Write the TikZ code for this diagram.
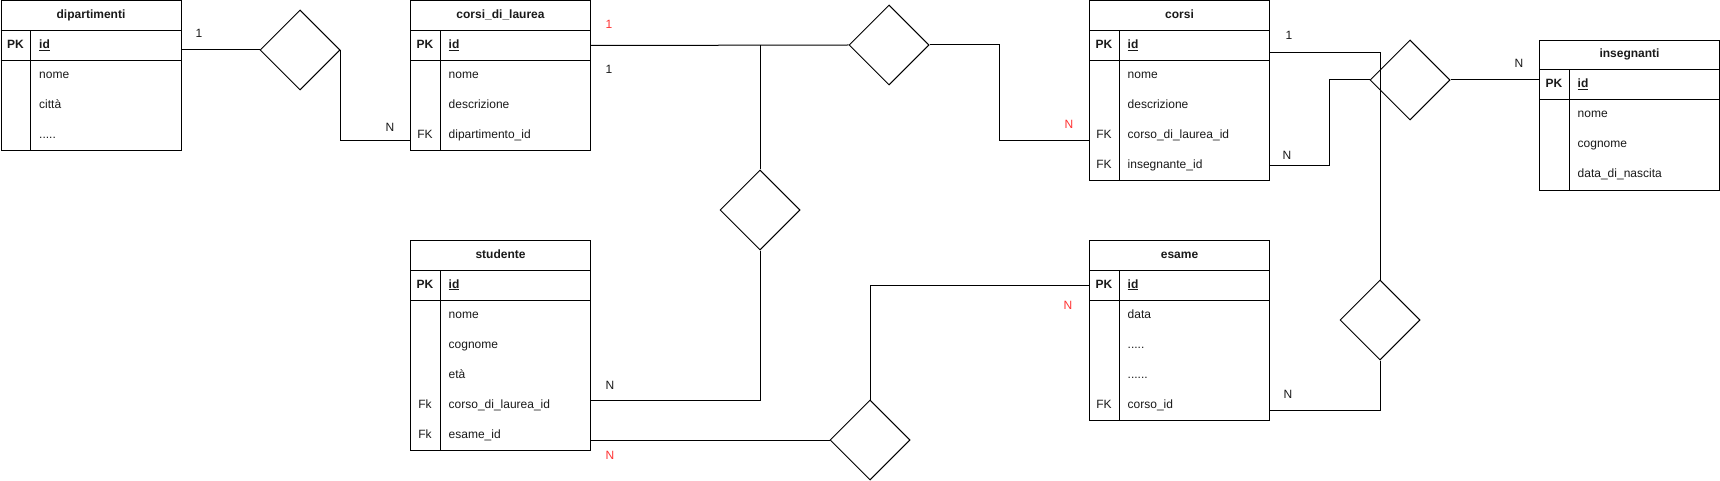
\documentclass[tikz,border=0pt]{standalone}
\usepackage{fontspec}
\setmainfont{Liberation Sans}
\usetikzlibrary{shapes.geometric,calc}
\definecolor{lblred}{HTML}{FF3333}
\definecolor{txt}{HTML}{1A1A1A}
\newcommand\ertable[5]{%
  \node[tbl, minimum height=#4] (#1) at (#2,#3) {};
  \node[hdr] (#1-t) at ([yshift=-15pt]#1.north) {#5};
  \draw[tline] ([yshift=-30pt]#1.north west) -- ([yshift=-30pt]#1.north east);
  \draw[tline] ([yshift=-60pt]#1.north west) -- ([yshift=-60pt]#1.north east);
  \draw[tline] ([xshift=30pt,yshift=-30pt]#1.north west) -- ([xshift=30pt]#1.south west);
}
\newcommand\errow[4]{%
  \node[keyc] (#1-k#2) at ([xshift=15pt,yshift={-(15+30*#2)*1pt}]#1.north west) {#3};
  \node[attr] (#1-a#2) at ([xshift=30pt,yshift={-(15+30*#2)*1pt}]#1.north west) {#4};
}
\newcommand\pkid{\textbf{\underline{id}}}
\begin{document}
\begin{tikzpicture}[x=1pt,y=-1pt,
  every node/.style={font=\fontsize{12pt}{14pt}\selectfont, text=txt},
  tbl/.style={draw, line width=1pt, minimum width=180pt, inner sep=0pt, anchor=north west},
  tline/.style={line width=1pt},
  hdr/.style={font=\fontsize{12pt}{14pt}\selectfont\bfseries, inner sep=0pt, text height=9pt, text depth=3pt},
  keyc/.style={inner sep=0pt, minimum width=30pt, minimum height=30pt, text height=9pt, text depth=3pt},
  attr/.style={anchor=west, inner xsep=8.5pt, inner ysep=0pt, text width=133pt, minimum height=30pt, align=left, text height=9pt, text depth=3pt},
  rel/.style={diamond, draw, line width=1pt, minimum width=80pt, minimum height=80pt, inner sep=0pt},
  conn/.style={line width=1pt},
  card/.style={inner sep=0pt},
  cardred/.style={inner sep=0pt, text=lblred}
]
\fill[white] (0,0) rectangle (1720,481);
\useasboundingbox (0,0) rectangle (1720,481);

% tables
\ertable{dip}{0.5}{0.5}{150pt}{dipartimenti}
\errow{dip}{1}{\textbf{PK}}{\pkid}
\errow{dip}{2}{}{nome}
\errow{dip}{3}{}{città}
\errow{dip}{4}{}{.....}

\ertable{cdl}{410}{0.5}{150pt}{corsi\_di\_laurea}
\errow{cdl}{1}{\textbf{PK}}{\pkid}
\errow{cdl}{2}{}{nome}
\errow{cdl}{3}{}{descrizione}
\errow{cdl}{4}{FK}{dipartimento\_id}

\ertable{cor}{1089}{0.5}{180pt}{corsi}
\errow{cor}{1}{\textbf{PK}}{\pkid}
\errow{cor}{2}{}{nome}
\errow{cor}{3}{}{descrizione}
\errow{cor}{4}{FK}{corso\_di\_laurea\_id}
\errow{cor}{5}{FK}{insegnante\_id}

\ertable{ins}{1539}{40}{150pt}{insegnanti}
\errow{ins}{1}{\textbf{PK}}{\pkid}
\errow{ins}{2}{}{nome}
\errow{ins}{3}{}{cognome}
\errow{ins}{4}{}{data\_di\_nascita}

\ertable{stu}{410}{240}{210pt}{studente}
\errow{stu}{1}{\textbf{PK}}{\pkid}
\errow{stu}{2}{}{nome}
\errow{stu}{3}{}{cognome}
\errow{stu}{4}{}{età}
\errow{stu}{5}{Fk}{corso\_di\_laurea\_id}
\errow{stu}{6}{Fk}{esame\_id}

\ertable{esa}{1089}{240}{180pt}{esame}
\errow{esa}{1}{\textbf{PK}}{\pkid}
\errow{esa}{2}{}{data}
\errow{esa}{3}{}{.....}
\errow{esa}{4}{}{......}
\errow{esa}{5}{FK}{corso\_id}

% relationships
\node[rel] (d1) at (300,50) {};
\node[rel] (d2) at (889,45) {};
\node[rel] (d3) at (760,210) {};
\node[rel] (d4) at (1410,80) {};
\node[rel] (d5) at (1380,320) {};
\node[rel] (d6) at (870,440) {};

% connectors
\draw[conn] (dip-a1.east |- d1.west) -- (d1.west);
\draw[conn] (d1.east) |- ([yshift=-5pt]cdl-k4.west);
\draw[conn] (cdl-a1.east) -- (d2.west);
\draw[conn] (d3.north) -- (d3.north |- cdl-a1.east);
\draw[conn] (d2.east) -- ++(70,0) |- ([yshift=-5pt]cor-k4.west);
\draw[conn] (d3.south) |- ([yshift=5pt]stu-a5.east);
\draw[conn] ([yshift=-5pt]stu-a6.east) -- (d6.west);
\draw[conn] (d6.north) |- (esa-k1.west);
\draw[conn] ([yshift=-7pt]cor-a1.east) -| (d5.north);
\draw[conn] (d4.west) -- ++(-40,0) |- (cor-a5.east);
\draw[conn] (d4.east) -- (d4.east -| ins.west);
\draw[conn] (d5.south) |- ([yshift=-5pt]esa-a5.east);

% cardinalities
\node[card] (l1) at (199,33) {1};
\node[card] (l2) at (390,127) {N};
\node[cardred] (l3) at (609,24) {1};
\node[card] (l4) at (609,69) {1};
\node[cardred] (l5) at (1069,124) {N};
\node[card] (l6) at (1289,35) {1};
\node[card] (l7) at (1287,155) {N};
\node[card] (l8) at (1519,63) {N};
\node[card] (l9) at (610,385) {N};
\node[cardred] (l10) at (610,455) {N};
\node[cardred] (l11) at (1068,305) {N};
\node[card] (l12) at (1288,394) {N};
\end{tikzpicture}
\end{document}
